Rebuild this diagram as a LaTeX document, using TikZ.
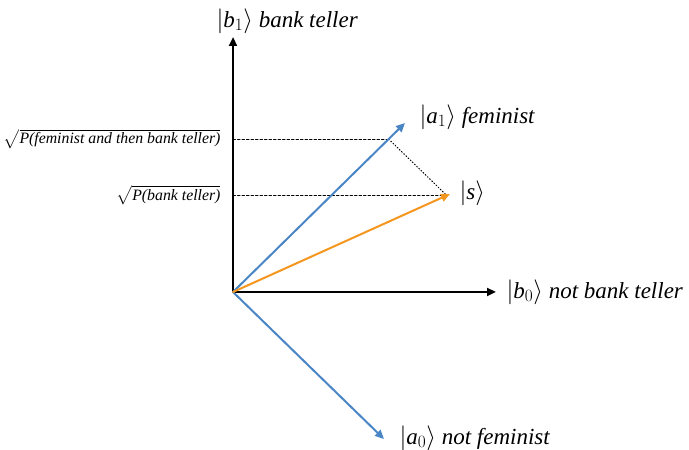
\documentclass[tikz,border=0pt]{standalone}
\usepackage{amsmath, amssymb}
\usepackage{fontspec}
\setmainfont{Liberation Serif}[ItalicFont={Liberation Serif Italic}]
\usepackage{tikz}
\usetikzlibrary{calc, arrows.meta}
\usepackage{tkz-euclide}
\definecolor{vecblue}{RGB}{74,134,198}
\definecolor{vecorange}{RGB}{245,150,30}
\tikzset{
  axisline/.style={black, line width=2.3pt, -{Triangle[length=9pt,width=8pt]}},
  vecline/.style={line width=2pt, -{Triangle[length=9pt,width=8pt]}},
  helpline/.style={black, line width=1pt, dash pattern=on 2.5pt off 2pt},
  biglabel/.style={anchor=west, font=\fontsize{23}{27}\selectfont},
  sqrtlabel/.style={anchor=east, font=\fontsize{15.8}{19}\selectfont}
}

\begin{document}
\begin{tikzpicture}[x=1pt, y=1pt]
            \tkzDefPoints{0/0/SW, 689/450/NE}
            \useasboundingbox (SW) rectangle (NE);
            \tkzDefPoints{233/158/O, 233/413/B1, 496/158/B0, 405/327/A1, 450/256/S, 384/11/A0}
            % corners of the dotted construction
            \coordinate (P) at ($(O)!0.905!(A1)$);
            \coordinate (T) at ($(O)!0.985!(S)$);
            \coordinate (Q) at (O |- P);
            \coordinate (R) at (O |- T);
            \tkzDrawSegments[helpline](Q,P R,T)
            \tkzDrawSegments[black, line width=1pt, dotted](P,T)
            \tkzDrawSegments[axisline](O,B1 O,B0)
            \tkzDrawSegments[vecline, vecblue](O,A1 O,A0)
            \tkzDrawSegments[vecline, vecorange](O,S)
            \tkzLabelPoint[biglabel, xshift=-20pt, yshift=16pt](B1){$|$\textit{b}$_1\rangle$ \textit{bank teller}}
            \tkzLabelPoint[biglabel, xshift=11pt, yshift=6pt](A1){$|$\textit{a}$_1\rangle$ \textit{feminist}}
            \tkzLabelPoint[biglabel, xshift=6pt, yshift=1pt](S){$|$\textit{s}$\rangle$}
            \tkzLabelPoint[biglabel, xshift=7pt](B0){$|$\textit{b}$_0\rangle$ \textit{not bank teller}}
            \tkzLabelPoint[biglabel, xshift=12pt, yshift=1pt](A0){$|$\textit{a}$_0\rangle$ \textit{not feminist}}
            \tkzLabelPoint[sqrtlabel, xshift=-9pt](Q){$\sqrt{\textit{P(feminist and then bank teller)}}$}
            \tkzLabelPoint[sqrtlabel, xshift=-9pt](R){$\sqrt{\textit{P(bank teller)}}$}
        \end{tikzpicture}
\end{document}
